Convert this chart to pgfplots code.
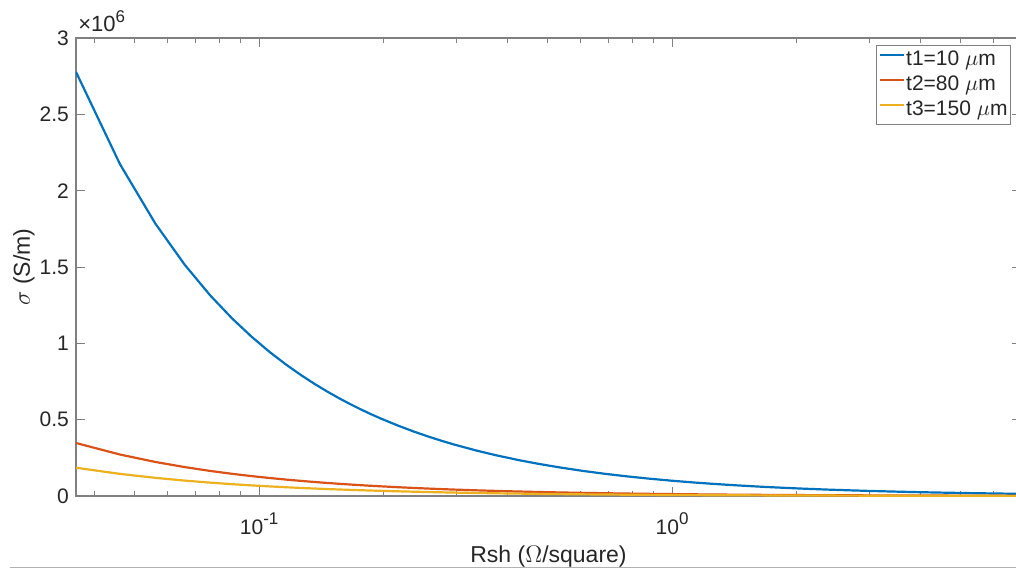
\documentclass[border=0pt]{standalone}
\usepackage{fontspec}
\setmainfont{Liberation Sans}
\usepackage{pgfplots}
\pgfplotsset{compat=1.18}
\usepackage{pgfplotstable}
\definecolor{c1}{rgb}{0,0.447,0.741}
\definecolor{c2}{rgb}{0.850,0.325,0.098}
\definecolor{c3}{rgb}{0.929,0.694,0.125}
\definecolor{axc}{gray}{0.5}
\definecolor{txt}{gray}{0.15}
\newcommand\sps[1]{\raisebox{0.45em}{\fontsize{8.5}{9}\selectfont #1}}

\pgfplotstableread{
R s1 s2 s3
0.036 2.7778 0.34722 0.18519
0.046 2.1739 0.27174 0.14493
0.056 1.7857 0.22321 0.11905
0.066 1.5152 0.18939 0.10101
0.076 1.3158 0.16447 0.08772
0.086 1.1628 0.14535 0.07752
0.096 1.0417 0.13021 0.06944
0.106 0.9434 0.11792 0.06289
0.116 0.8621 0.10776 0.05747
0.126 0.7937 0.09921 0.05291
0.136 0.7353 0.09191 0.04902
0.146 0.6849 0.08562 0.04566
0.156 0.6410 0.08013 0.04274
0.166 0.6024 0.07530 0.04016
0.176 0.5682 0.07102 0.03788
0.186 0.5376 0.06720 0.03584
0.196 0.5102 0.06378 0.03401
0.216 0.4630 0.05787 0.03086
0.236 0.4237 0.05297 0.02825
0.256 0.3906 0.04883 0.02604
0.276 0.3623 0.04529 0.02415
0.296 0.3378 0.04223 0.02252
0.336 0.2976 0.03720 0.01984
0.376 0.2660 0.03324 0.01773
0.426 0.2347 0.02934 0.01565
0.476 0.2101 0.02626 0.01401
0.536 0.1866 0.02332 0.01244
0.606 0.1650 0.02063 0.01100
0.686 0.1458 0.01822 0.00972
0.776 0.1289 0.01611 0.00859
0.876 0.1142 0.01427 0.00761
0.996 0.1004 0.01255 0.00669
1.126 0.0888 0.01110 0.00592
1.276 0.0784 0.00980 0.00522
1.446 0.0692 0.00864 0.00461
1.636 0.0611 0.00764 0.00408
1.856 0.0539 0.00673 0.00359
2.106 0.0475 0.00594 0.00317
2.386 0.0419 0.00524 0.00279
2.706 0.0370 0.00462 0.00246
3.066 0.0326 0.00408 0.00217
3.476 0.0288 0.00360 0.00192
3.946 0.0253 0.00317 0.00169
4.476 0.0223 0.00279 0.00149
5.076 0.0197 0.00246 0.00131
5.756 0.0174 0.00217 0.00116
6.526 0.0153 0.00192 0.00102
7.000 0.0143 0.00179 0.00095
}\sigmadata

\begin{document}
\begin{tikzpicture}
\begin{axis}[
  at={(0,0)}, anchor=south west,
  scale only axis, width=472.5pt, height=229pt,
  xmode=log, xmin=0.036, xmax=7, ymin=0, ymax=3,
  xtick={0.1,1}, xticklabels={10\sps{-1},10\sps{0}},
  minor xtick={0.04,0.05,0.06,0.07,0.08,0.09,0.2,0.3,0.4,0.5,0.6,0.7,0.8,0.9,2,3,4,5,6,7},
  ytick={0,0.5,1,1.5,2,2.5,3}, yticklabels={0,0.5,1,1.5,2,2.5,3},
  major tick length=4.5pt, minor tick length=2.5pt,
  tick align=inside,
  tick style={axc, line width=0.5pt},
  axis line style={axc, line width=0.6pt},
  ticklabel style={font=\fontsize{10.5}{12}\selectfont, text=txt},
  xticklabel style={yshift=-5pt},
  xlabel={Rsh ($\Omega$/square)}, ylabel={$\sigma$ (S/m)},
  label style={font=\fontsize{11.5}{13}\selectfont, text=txt},
  x label style={at={(axis description cs:0.5,-0.1441)}, anchor=base},
  y label style={at={(axis description cs:-0.0487,0.5)}, anchor=base},
  legend cell align=left,
  legend image code/.code={\draw[#1] (0pt,2.6pt) -- (12pt,2.6pt);},
  legend style={at={(1,1)}, anchor=north east, xshift=-5pt, yshift=-3.5pt,
    draw=axc, line width=0.5pt, fill=white, inner xsep=1pt, inner ysep=1pt,
    font=\fontsize{10.5}{12}\selectfont, text=txt, row sep=0pt, column sep=0pt,
    nodes={inner sep=0.5pt, text height=8.5pt, text depth=3pt}},
]
\addplot[c1, line width=1.1pt] table[x=R, y=s1] {\sigmadata};
\addlegendentry{t1=10 $\mu$m}
\addplot[c2, line width=1.1pt] table[x=R, y=s2] {\sigmadata};
\addlegendentry{t2=80 $\mu$m}
\addplot[c3, line width=1.1pt] table[x=R, y=s3] {\sigmadata};
\addlegendentry{t3=150 $\mu$m}
\end{axis}
\node[anchor=base west, font=\fontsize{11}{12}\selectfont, text=txt, inner sep=0pt] at (1pt,232pt) {×10\sps{6}};
\pgfresetboundingbox
\useasboundingbox (-38pt,-36.5pt) rectangle (470pt,248pt);
\draw[gray!60, line width=0.8pt] (-33pt,-35.8pt) -- (470pt,-35.8pt);
\end{tikzpicture}
\end{document}
